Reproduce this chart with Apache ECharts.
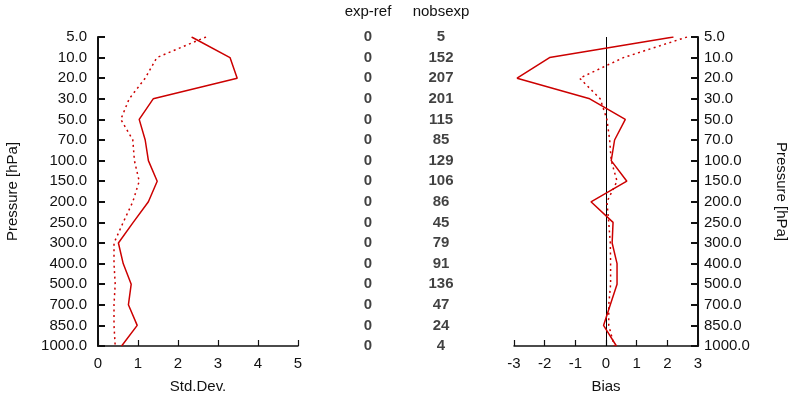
<!DOCTYPE html>
<html>
<head>
<meta charset="utf-8">
<script src="https://cdn.jsdelivr.net/npm/echarts@6/dist/echarts.min.js"></script>
<style>
  html, body { margin: 0; padding: 0; background: #fff; }
  #chart { width: 788px; height: 393px; }
</style>
</head>
<body>
<div id="chart"></div>
<script>
// Pressure levels (top to bottom)
const levels = ['5.0', '10.0', '20.0', '30.0', '50.0', '70.0', '100.0', '150.0',
                '200.0', '250.0', '300.0', '400.0', '500.0', '700.0', '850.0', '1000.0'];

// Standard deviation profiles
const stdExp = [2.34, 3.30, 3.48, 1.38, 1.03, 1.18, 1.26, 1.48,
                1.26, 0.88, 0.51, 0.63, 0.83, 0.76, 0.98, 0.59];
const stdRef = [2.70, 1.47, 1.18, 0.78, 0.57, 0.87, 0.91, 1.03,
                0.87, 0.63, 0.40, 0.40, 0.43, 0.40, 0.40, 0.43];

// Bias profiles
const biasExp = [2.20, -1.84, -2.90, -0.53, 0.63, 0.28, 0.17, 0.68,
                 -0.49, 0.23, 0.20, 0.36, 0.36, 0.14, -0.08, 0.34];
const biasRef = [2.64, 0.57, -0.86, -0.19, 0.03, 0.12, 0.17, 0.36,
                 0.03, 0.09, 0.14, 0.15, 0.15, 0.09, 0.09, 0.27];

// Table columns
const tableHeaders = ['exp-ref', 'nobsexp'];
const expRef = [0, 0, 0, 0, 0, 0, 0, 0, 0, 0, 0, 0, 0, 0, 0, 0];
const nobsExp = [5, 152, 207, 201, 115, 85, 129, 106, 86, 45, 79, 91, 136, 47, 24, 4];

const FONT = 'Liberation Sans, Helvetica, Arial, sans-serif';
const RED = '#cc0000';
const TXT = '#111';
const AXIS = '#111111';

// Each level is placed at its index on an evenly spaced, inverted axis
const pairs = vals => vals.map((v, i) => [v, i]);
const levelLabel = v => levels[Math.round(v)] || '';

const axisLine = w => ({ show: true, onZero: false, lineStyle: { color: AXIS, width: w } });
const tickLabel = () => ({ color: TXT, fontFamily: FONT, fontSize: 15 });
const nameStyle = () => ({ color: TXT, fontFamily: FONT, fontSize: 15 });
const innerTick = (len, w) => ({
  show: true, inside: true, length: len,
  lineStyle: { color: AXIS, width: w }
});

const chart = echarts.init(document.getElementById('chart'), null, { renderer: 'canvas' });

chart.setOption({
  animation: false,
  backgroundColor: '#fff',
  grid: [
    { left: 98, top: 37, width: 200, height: 309, containLabel: false, outerBoundsMode: 'none' },
    { left: 514, top: 37, width: 184, height: 309, containLabel: false, outerBoundsMode: 'none' },
    { left: 331.5, top: 37, width: 146, height: 309, containLabel: false, outerBoundsMode: 'none' }
  ],
  xAxis: [
    {
      gridIndex: 0, type: 'value', min: 0, max: 5, interval: 1,
      position: 'bottom',
      axisLine: axisLine(1.5),
      axisTick: innerTick(6, 1.2),
      axisLabel: Object.assign({ margin: 10 }, tickLabel()),
      splitLine: { show: false },
      name: 'Std.Dev.', nameLocation: 'middle', nameGap: 33, nameTextStyle: nameStyle()
    },
    {
      gridIndex: 1, type: 'value', min: -3, max: 3, interval: 1,
      position: 'bottom',
      axisLine: axisLine(1.5),
      axisTick: innerTick(6, 1.2),
      axisLabel: Object.assign({ margin: 10 }, tickLabel()),
      splitLine: { show: false },
      name: 'Bias', nameLocation: 'middle', nameGap: 33, nameTextStyle: nameStyle()
    },
    {
      gridIndex: 2, type: 'category', data: tableHeaders, position: 'top',
      axisLine: { show: false }, axisTick: { show: false },
      axisLabel: Object.assign({ margin: 18, interval: 0 }, tickLabel()),
      splitLine: { show: false }
    }
  ],
  yAxis: [
    {
      gridIndex: 0, type: 'value', min: 0, max: levels.length - 1, interval: 1, inverse: true,
      position: 'left',
      axisLine: axisLine(2),
      axisTick: innerTick(7, 2),
      axisLabel: Object.assign({ margin: 11, formatter: levelLabel }, tickLabel()),
      splitLine: { show: false },
      name: 'Pressure [hPa]', nameLocation: 'middle', nameRotate: 90, nameGap: 78,
      nameTextStyle: nameStyle()
    },
    {
      gridIndex: 1, type: 'value', min: 0, max: levels.length - 1, interval: 1, inverse: true,
      position: 'right',
      axisLine: axisLine(2),
      axisTick: innerTick(7, 2),
      axisLabel: Object.assign({ margin: 6, formatter: levelLabel }, tickLabel()),
      splitLine: { show: false },
      name: 'Pressure [hPa]', nameLocation: 'middle', nameRotate: -90, nameGap: 76,
      nameTextStyle: nameStyle()
    },
    {
      gridIndex: 2, type: 'value', min: 0, max: levels.length - 1, interval: 1, inverse: true,
      show: false
    }
  ],
  series: [
    {
      type: 'line', xAxisIndex: 0, yAxisIndex: 0, data: pairs(stdExp),
      symbol: 'none', lineStyle: { color: RED, width: 1.5 }
    },
    {
      type: 'line', xAxisIndex: 0, yAxisIndex: 0, data: pairs(stdRef),
      symbol: 'none', lineStyle: { color: RED, width: 1.5, type: [2, 3.5] }
    },
    {
      type: 'line', xAxisIndex: 1, yAxisIndex: 1, data: pairs(biasExp),
      symbol: 'none', lineStyle: { color: RED, width: 1.5 }, z: 3,
      markLine: {
        silent: true, symbol: 'none', label: { show: false }, z: 2,
        lineStyle: { color: '#000', width: 1, type: 'solid' },
        data: [{ xAxis: 0 }]
      }
    },
    {
      type: 'line', xAxisIndex: 1, yAxisIndex: 1, data: pairs(biasRef),
      symbol: 'none', lineStyle: { color: RED, width: 1.5, type: [2, 3.5] }, z: 3
    },
    {
      type: 'scatter', xAxisIndex: 2, yAxisIndex: 2, symbolSize: 0,
      data: expRef.map((v, i) => [0, i, v]),
      label: {
        show: true, position: 'inside', formatter: p => String(p.value[2]),
        color: TXT, fontFamily: FONT, fontSize: 15, fontWeight: 'bold'
      }
    },
    {
      type: 'scatter', xAxisIndex: 2, yAxisIndex: 2, symbolSize: 0,
      data: nobsExp.map((v, i) => [1, i, v]),
      label: {
        show: true, position: 'inside', formatter: p => String(p.value[2]),
        color: TXT, fontFamily: FONT, fontSize: 15, fontWeight: 'bold'
      }
    }
  ]
});
</script>
</body>
</html>
